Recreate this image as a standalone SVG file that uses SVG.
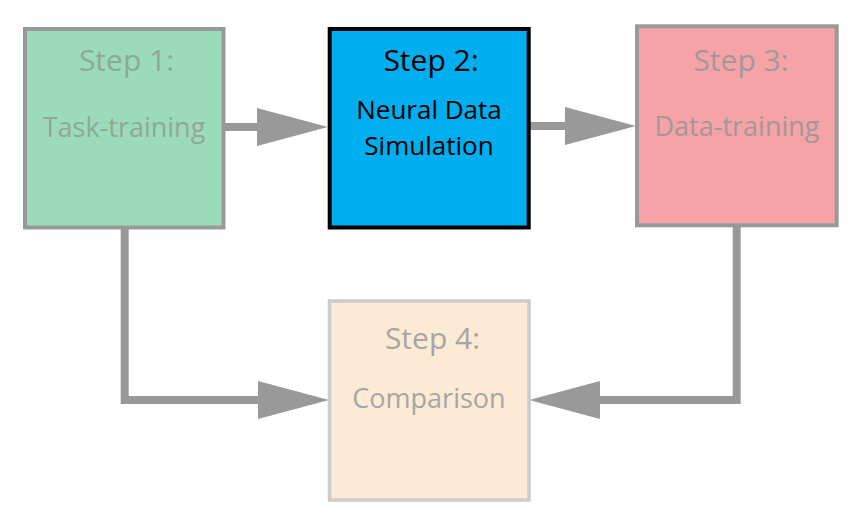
<svg xmlns="http://www.w3.org/2000/svg" width="865" height="526" viewBox="0 0 865 526">
<defs>
<style>
.box{stroke-width:4}
.t{font-family:"Open Sans","Liberation Sans",sans-serif;text-anchor:middle}
.h{font-size:30px}
.b{font-size:27px}
.conn{fill:none;stroke:#999999;stroke-width:8}
</style>
<marker id="ah" markerUnits="userSpaceOnUse" markerWidth="72" markerHeight="40" refX="0" refY="19" orient="auto" overflow="visible">
<path d="M0,0 L71,19 L0,38 Z" fill="#999999"/>
</marker>
</defs>
<rect width="865" height="526" fill="#ffffff"/>
<g id="connectors">
<path class="conn" d="M225,127 H257" marker-end="url(#ah)"/>
<path class="conn" d="M530,126 H565" marker-end="url(#ah)"/>
<path class="conn" d="M124.7,228 V400 H258" marker-end="url(#ah)"/>
<path class="conn" d="M736.7,226 V400 H600" marker-end="url(#ah)"/>
</g>
<g id="step1">
<rect class="box" x="25" y="29" width="198.5" height="198.5" fill="#9bdbb9" stroke="#999999"/>
<text class="t h" x="126.5" y="71" fill="#8fa898">Step 1:</text>
<text class="t b" x="124" y="136.5" fill="#8fa898">Task-training</text>
</g>
<g id="step2">
<rect class="box" x="329.7" y="29" width="199" height="198.5" fill="#00aeef" stroke="#000000"/>
<text class="t h" x="431" y="71" fill="#000000">Step 2:</text>
<text class="t b" x="429" y="118.5" fill="#000000" style="font-size:26px">Neural Data</text>
<text class="t b" x="429" y="154.5" fill="#000000" style="font-size:26px">Simulation</text>
</g>
<g id="step3">
<rect class="box" x="637" y="26.3" width="199.7" height="199" fill="#f5a3a6" stroke="#999999"/>
<text class="t h" x="741" y="71" fill="#a39899">Step 3:</text>
<text class="t b" x="737" y="135.5" fill="#a39899">Data-training</text>
</g>
<g id="step4">
<rect x="329.5" y="301" width="199.5" height="199" fill="#fcead5" stroke="#cccccc" stroke-width="3.5"/>
<text class="t h" x="432.5" y="349" fill="#a6a6a6">Step 4:</text>
<text class="t b" x="429" y="408" fill="#a6a6a6">Comparison</text>
</g>
</svg>
